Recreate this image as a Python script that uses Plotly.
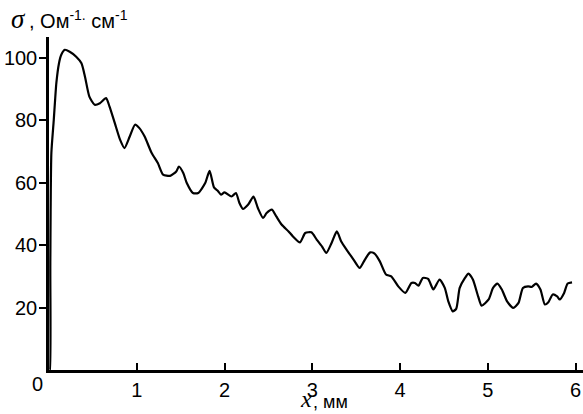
import plotly.graph_objects as go

x_mm = [0.005, 0.010, 0.015, 0.027, 0.054, 0.084, 0.114, 0.14, 0.18, 0.236, 0.31, 0.37, 0.41, 0.46,
        0.52, 0.58, 0.65, 0.69, 0.75, 0.81, 0.86, 0.92, 0.98, 1.03, 1.09, 1.17, 1.24, 1.30,
        1.38, 1.45, 1.48, 1.53, 1.57, 1.64, 1.70, 1.78, 1.83, 1.88, 1.92, 1.96, 2.00, 2.08,
        2.13, 2.17, 2.21, 2.27, 2.33, 2.38, 2.44, 2.48, 2.54, 2.59, 2.65, 2.73, 2.78, 2.86,
        2.92, 2.99, 3.05, 3.11, 3.16, 3.22, 3.28, 3.33, 3.39, 3.47, 3.54, 3.60, 3.66, 3.71,
        3.77, 3.84, 3.90, 3.98, 4.06, 4.13, 4.17, 4.21, 4.26, 4.32, 4.38, 4.45, 4.51, 4.55,
        4.60, 4.64, 4.68, 4.74, 4.78, 4.83, 4.89, 4.93, 5.01, 5.06, 5.11, 5.16, 5.22, 5.29,
        5.35, 5.40, 5.46, 5.50, 5.55, 5.60, 5.65, 5.69, 5.74, 5.79, 5.82, 5.87, 5.91, 5.96]
sigma = [0.0, 0.0, 34.0, 69.5, 80.0, 92.0, 98.3, 101.0, 102.6, 102.0, 100.4, 98.3, 94.0, 87.6,
         85.0, 85.5, 87.1, 84.4, 79.1, 73.8, 71.1, 74.8, 78.6, 77.5, 74.8, 69.5, 66.3, 62.6,
         62.2, 63.6, 65.2, 63.1, 59.9, 56.7, 56.7, 59.9, 63.8, 58.5, 57.5, 56.2, 56.9, 55.6,
         56.7, 53.5, 51.6, 53.0, 55.6, 51.9, 48.7, 50.3, 51.4, 49.2, 46.6, 44.4, 42.8, 40.9,
         43.9, 44.1, 41.8, 39.6, 37.5, 40.7, 44.4, 41.2, 38.6, 35.4, 32.7, 35.4, 37.7, 37.3,
         34.8, 30.6, 30.0, 26.8, 24.7, 27.9, 27.9, 27.0, 29.5, 29.2, 25.8, 29.0, 26.3, 22.0,
         18.8, 19.6, 26.3, 29.5, 30.9, 29.0, 23.6, 20.6, 22.6, 26.3, 27.7, 25.8, 22.0, 19.9,
         21.5, 26.3, 26.8, 26.6, 27.7, 25.8, 21.0, 21.7, 24.2, 23.6, 22.6, 24.7, 27.7, 28.1]

x_ticks = [1, 2, 3, 4, 5, 6]
y_ticks = [20, 40, 60, 80, 100]

W, H = 583, 414
L, R, T, B = 49, 0, 37, 43.5
pw, ph = W - L - R, H - T - B

def px2paper(px, py):
    return (px - L) / pw, (H - B - py) / ph

fig = go.Figure()
fig.add_trace(go.Scatter(x=x_mm, y=sigma, mode="lines",
                         line=dict(color="black", width=2.2, shape="spline", smoothing=0.6),
                         hoverinfo="skip"))

SANS = "Liberation Sans, Arial, sans-serif"
SERIF = "Liberation Serif, DejaVu Serif, serif"
tfont = dict(family=SANS, size=20, color="black")

fig.update_layout(
    template="none",
    width=W, height=H,
    margin=dict(l=L, r=R, t=T, b=B, pad=0, autoexpand=False),
    paper_bgcolor="white", plot_bgcolor="white",
    showlegend=False,
    font=tfont,
    xaxis=dict(range=[0, 6.085], tickvals=x_ticks, ticktext=[str(v) for v in x_ticks],
               ticks="inside", ticklen=7, tickwidth=1.5, tickcolor="black",
               showline=True, linecolor="black", linewidth=2.5, automargin=False,
               showgrid=False, zeroline=False, tickfont=tfont),
    yaxis=dict(range=[0, 106.7], tickvals=y_ticks, ticktext=[str(v) for v in y_ticks],
               ticks="outside", ticklen=7, tickwidth=1.5, tickcolor="black",
               showline=True, linecolor="black", linewidth=2.5, automargin=False,
               ticklabelstandoff=-2,
               showgrid=False, zeroline=False, tickfont=tfont),
)

def note(px, py, text, font, xanchor="left", yanchor="middle"):
    ax, ay = px2paper(px, py)
    fig.add_annotation(x=ax, y=ay, xref="paper", yref="paper", xanchor=xanchor, yanchor=yanchor,
                       text=text, showarrow=False, font=font, borderpad=0)

# y-axis title (top-left): italic serif sigma followed by sans units
note(10, 19, "<i>σ</i>", dict(family=SERIF, size=27, color="black"))
note(28, 19, ", Ом<sup>-1.</sup> см<sup>-1</sup>", dict(family=SANS, size=20, color="black"))
# origin label
note(37, 385, "0", tfont, xanchor="center")
# x-axis title
note(299, 414, "<i>x</i>", dict(family=SERIF, size=24, color="black"), yanchor="bottom")
note(312, 414, ", мм", dict(family=SANS, size=18, color="black"), yanchor="bottom")

fig.write_html("out.html", config={"displayModeBar": False},
               post_script="document.body.style.margin='0';document.body.style.overflow='hidden';")
